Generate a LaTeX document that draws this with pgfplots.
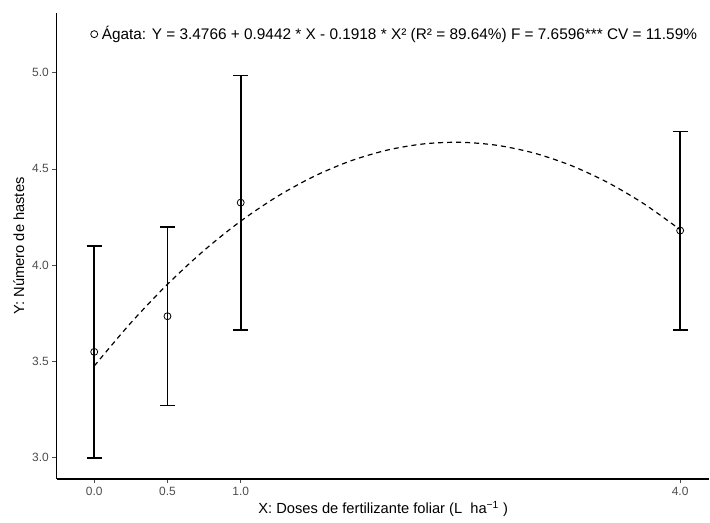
\documentclass[border=0pt]{standalone}
\usepackage{fontspec}
\setmainfont{Liberation Sans}
\usepackage{pgfplots}
\pgfplotsset{compat=1.18}
\definecolor{ticktext}{HTML}{4D4D4D}

\begin{document}
\begin{tikzpicture}
\begin{axis}[
  scale only axis,
  width=654pt,height=467pt,
  xmin=-0.255,xmax=4.2,ymin=2.89,ymax=5.31,
  axis x line*=bottom,axis y line*=left,
  axis line style={black,line width=1.1pt,-},
  xtick={0,0.5,1,4},ytick={3,3.5,4,4.5,5},
  xticklabels={0.0,0.5,1.0,4.0},yticklabels={3.0,3.5,4.0,4.5,5.0},
  tick align=outside,major tick length=4.5pt,
  tick style={ticktext,line width=0.8pt},
  tick label style={font=\fontsize{12}{14}\selectfont,text=ticktext},
  /pgf/number format/assume math mode=true,
  xlabel={X: Doses de fertilizante foliar (L\ \ ha\textsuperscript{−1} )},
  ylabel={Y: Número de hastes},
  label style={font=\fontsize{14.7}{16}\selectfont},
  xlabel style={yshift=1pt},
  ylabel style={yshift=1pt},
  clip=false,
]
% fitted curve Y = 3.4766 + 0.9442 X - 0.1918 X^2, values read at steps of 0.25
\addplot[black,line width=1.2pt,dash pattern=on 5pt off 4pt,smooth] coordinates {
  (0,3.4766) (0.25,3.7007) (0.5,3.9008) (0.75,4.0769) (1,4.2290)
  (1.25,4.3572) (1.5,4.4614) (1.75,4.5416) (2,4.5978) (2.25,4.6301)
  (2.5,4.6384) (2.75,4.6227) (3,4.5830) (3.25,4.5194) (3.5,4.4318)
  (3.75,4.3202) (4,4.1846)};
% means with error bars
\addplot[black,draw=none,mark=o,mark size=3.5pt,
  mark options={black,line width=0.8pt},
  error bars/.cd,y dir=both,y explicit,
  error bar style={black,line width=1.6pt},
  error mark=|,
  error mark options={black,line width=1.6pt,mark size=7.5pt}] coordinates {
  (0,3.55) +- (0,0.55)
  (0.5,3.735) +- (0,0.463)
  (1,4.325) +- (0,0.66)
  (4,4.18) +- (0,0.515)};
% legend annotation
\addplot[only marks,mark=o,mark size=3.5pt,mark options={black,line width=0.8pt}]
  coordinates {(0,5.2)};
\node[anchor=west,font=\fontsize{15.4}{17}\selectfont,inner sep=0pt] at (axis cs:0.05,5.2)
  {Ágata: Y = 3.4766 + 0.9442 * X - 0.1918 * X² (R² = 89.64\%) F = 7.6596*** CV = 11.59\%};
\end{axis}
\useasboundingbox (current axis.south west) ++(-57pt,-44pt) rectangle ++(710pt,524pt);
\end{tikzpicture}
\end{document}
